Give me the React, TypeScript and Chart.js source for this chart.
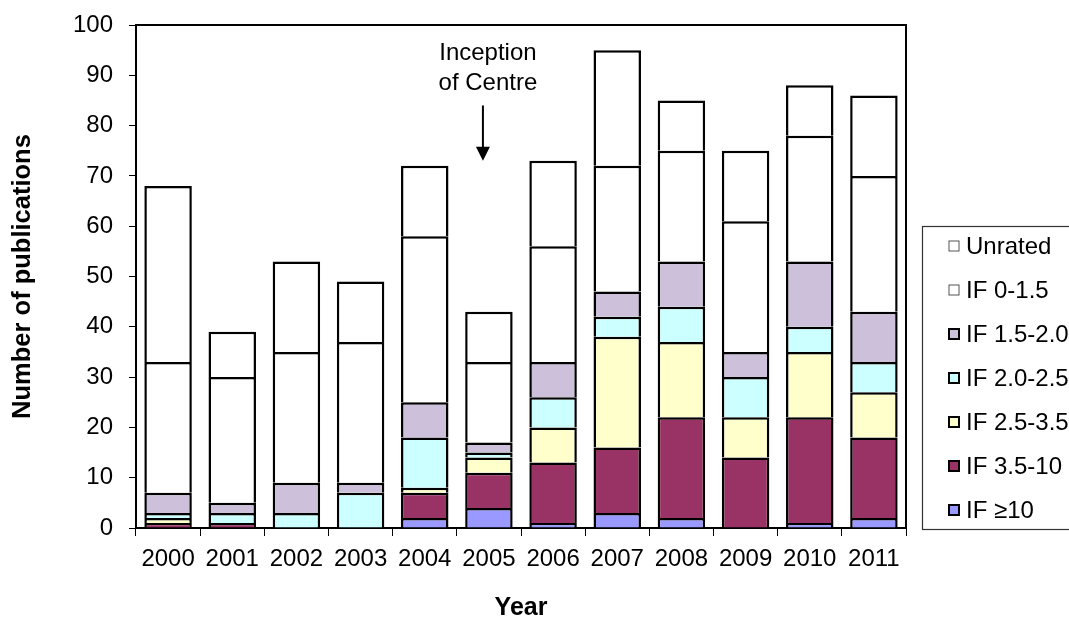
import React, { useEffect, useRef } from "react";
import { Chart, registerables } from "chart.js";

Chart.register(...registerables);

const years = ["2000", "2001", "2002", "2003", "2004", "2005", "2006", "2007", "2008", "2009", "2010", "2011"];
const if10Plus = [0, 0, 0, 0, 2, 4, 1, 3, 2, 0, 1, 2];
const if35to10 = [1, 1, 0, 0, 5, 7, 12, 13, 20, 14, 21, 16];
const if25to35 = [1, 0, 0, 0, 1, 3, 7, 22, 15, 8, 13, 9];
const if20to25 = [1, 2, 3, 7, 10, 1, 6, 4, 7, 8, 5, 6];
const if15to20 = [4, 2, 6, 2, 7, 2, 7, 5, 9, 5, 13, 10];
const if0to15 = [26, 25, 26, 28, 33, 16, 23, 25, 22, 26, 25, 27];
const unrated = [35, 9, 18, 12, 14, 10, 17, 23, 10, 14, 10, 16];

const yTicks = [0, 10, 20, 30, 40, 50, 60, 70, 80, 90, 100];
const annotationLines = ["Inception", "of Centre"];
const annotationIndex = 5;
const arrowFrom = 84;
const arrowTo = 73;

const FONT = "'Liberation Sans', Arial, sans-serif";

const seriesDefs = [
  { label: "IF \u226510", data: if10Plus, color: "#9999FF", dark: true },
  { label: "IF 3.5-10", data: if35to10, color: "#993366", dark: true },
  { label: "IF 2.5-3.5", data: if25to35, color: "#FFFFCC", dark: true },
  { label: "IF 2.0-2.5", data: if20to25, color: "#CCFFFF", dark: true },
  { label: "IF 1.5-2.0", data: if15to20, color: "#CCC0DA", dark: true },
  { label: "IF 0-1.5", data: if0to15, color: "#FFFFFF", dark: false },
  { label: "Unrated", data: unrated, color: "#FFFFFF", dark: false },
];

const framePlugin = {
  id: "frameAndExtras",
  afterDraw(chart: any) {
    const { ctx, chartArea, scales } = chart;
    const x = scales.x;
    const y = scales.y;
    ctx.save();
    // plot frame
    ctx.strokeStyle = "#000";
    ctx.lineWidth = 2;
    ctx.beginPath();
    ctx.moveTo(chartArea.left, chartArea.top);
    ctx.lineTo(chartArea.right, chartArea.top);
    ctx.lineTo(chartArea.right, chartArea.bottom);
    ctx.stroke();

    // annotation
    const ax = x.getPixelForValue(annotationIndex);
    ctx.fillStyle = "#000";
    ctx.font = `24px ${FONT}`;
    ctx.textAlign = "center";
    ctx.textBaseline = "middle";
    ctx.fillText(annotationLines[0], ax - 1, y.getPixelForValue(94.3));
    ctx.fillText(annotationLines[1], ax - 1, y.getPixelForValue(88.4));
    const arrowX = ax - 6;
    const yStart = y.getPixelForValue(arrowFrom);
    const yTip = y.getPixelForValue(arrowTo);
    ctx.lineWidth = 2;
    ctx.beginPath();
    ctx.moveTo(arrowX, yStart);
    ctx.lineTo(arrowX, yTip - 12);
    ctx.stroke();
    ctx.beginPath();
    ctx.moveTo(arrowX - 7, yTip - 14);
    ctx.lineTo(arrowX + 7, yTip - 14);
    ctx.lineTo(arrowX, yTip);
    ctx.closePath();
    ctx.fill();

    // legend
    const boxLeft = 922;
    const boxTop = 226;
    const boxBottom = 529;
    ctx.lineWidth = 1.2;
    ctx.strokeStyle = "#333";
    ctx.strokeRect(boxLeft + 0.5, boxTop + 0.5, 200, boxBottom - boxTop);
    const items = [...seriesDefs].reverse();
    ctx.textAlign = "left";
    ctx.font = `24px ${FONT}`;
    items.forEach((s, i) => {
      const cy = 246 + i * 44;
      ctx.fillStyle = s.color;
      ctx.fillRect(949, cy - 5, 10, 10);
      if (s.dark) {
        ctx.strokeStyle = "#000";
        ctx.lineWidth = 2;
      } else {
        ctx.strokeStyle = "#555";
        ctx.lineWidth = 1;
      }
      ctx.strokeRect(949, cy - 5, 10, 10);
      ctx.fillStyle = "#000";
      ctx.fillText(s.label, 966, cy + 1);
    });
    ctx.restore();
  },
};

export default function App() {
  const ref = useRef<HTMLCanvasElement>(null);
  useEffect(() => {
    if (!ref.current) return;
    const chart = new Chart(ref.current, {
      type: "bar",
      data: {
        labels: years,
        datasets: seriesDefs.map((s) => ({
          label: s.label,
          data: s.data.map((v) => (v === 0 ? null : v)),
          backgroundColor: s.color,
          borderColor: "#000",
          borderWidth: { top: 2.5, left: 2.5, right: 2.5, bottom: 0 },
          borderSkipped: false,
          categoryPercentage: 1,
          barPercentage: 0.74,
        })),
      },
      options: {
        responsive: false,
        animation: false,
        devicePixelRatio: 1,
        layout: { padding: { left: 0, right: 163, top: 25, bottom: 0 } },
        plugins: {
          legend: { display: false },
          tooltip: { enabled: false },
        },
        scales: {
          x: {
            stacked: true,
            afterFit: (s: any) => {
              s.height = 95;
            },
            grid: {
              display: true,
              drawOnChartArea: false,
              drawTicks: true,
              tickLength: 8,
              color: "#000",
              lineWidth: 1,
              offset: true,
            },
            border: { color: "#000", width: 2 },
            ticks: {
              color: "#000",
              font: { family: FONT, size: 24 },
              padding: 9,
              maxRotation: 0,
              autoSkip: false,
            },
            title: {
              display: true,
              text: "Year",
              color: "#000",
              font: { family: FONT, size: 25, weight: "bold" },
              padding: { top: 0, bottom: 0 },
            },
          },
          y: {
            stacked: true,
            min: 0,
            max: 100,
            afterFit: (s: any) => {
              s.width = 136;
              s.paddingTop = 0;
              s.paddingBottom = 0;
            },
            afterBuildTicks: (s: any) => {
              s.ticks = yTicks.map((v) => ({ value: v }));
            },
            grid: {
              display: true,
              drawOnChartArea: false,
              drawTicks: true,
              tickLength: 7,
              color: "#000",
              lineWidth: 1,
            },
            border: { color: "#000", width: 2 },
            ticks: {
              color: "#000",
              font: { family: FONT, size: 24 },
              padding: 16,
            },
            title: {
              display: true,
              text: "Number of publications",
              color: "#000",
              font: { family: FONT, size: 25.5, weight: "bold" },
              padding: { top: 8, bottom: 0 },
            },
          },
        },
      },
      plugins: [framePlugin],
    });
    return () => chart.destroy();
  }, []);
  return (
    <div style={{ position: "absolute", left: 0, top: 0, width: 1069, height: 623, background: "#fff" }}>
      <canvas ref={ref} width={1069} height={623} style={{ display: "block" }} />
    </div>
  );
}
